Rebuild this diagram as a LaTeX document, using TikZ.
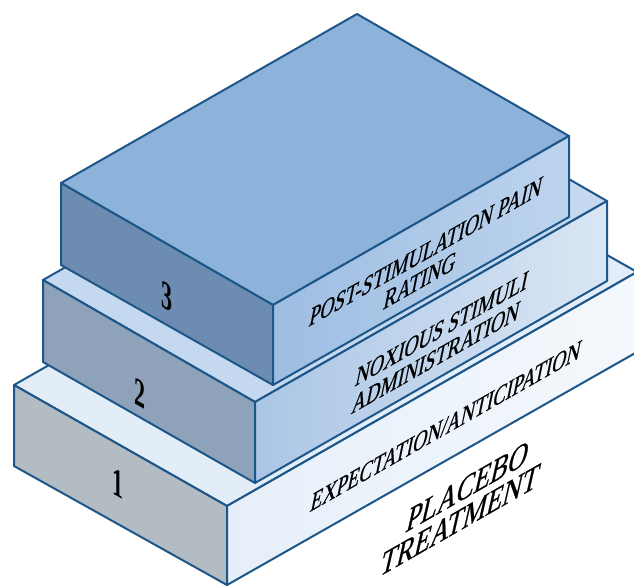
\documentclass[tikz,border=0pt]{standalone}
\usepackage{fontspec}
\setmainfont{Liberation Serif}
\newfontfamily\lblfont[FakeBold=0.8]{Liberation Serif}
\definecolor{edgeblue}{HTML}{1D5689}
\definecolor{topA}{HTML}{E2EDF8}
\definecolor{leftA}{HTML}{B3BBC3}
\definecolor{rightAl}{HTML}{E6EFF9}
\definecolor{rightAr}{HTML}{F4F8FC}
\definecolor{topB}{HTML}{C4D8EF}
\definecolor{leftB}{HTML}{8EA3BA}
\definecolor{rightBl}{HTML}{ABC6E6}
\definecolor{rightBr}{HTML}{DAE6F4}
\definecolor{topC}{HTML}{8DB3DB}
\definecolor{leftC}{HTML}{6C8DB1}
\definecolor{rightCl}{HTML}{9DBDE2}
\definecolor{rightCr}{HTML}{BDD4EE}
\begin{document}
\begin{tikzpicture}[x=1pt,y=-1pt,
  edge/.style={draw=edgeblue,line width=2pt,line join=round},
  facelbl/.style={font=\lblfont\fontsize{19.5}{20}\selectfont, align=center, inner sep=0pt, text=black,
    cm={1,0.5714,0.3,1.45,(0,0)}},
  biglbl/.style={font=\lblfont\fontsize{26.5}{24}\selectfont, align=center, inner sep=0pt, text=black,
    cm={1,0.5714,0.32,1.4,(0,0)}},
  numlbl/.style={font=\fontsize{40}{40}\selectfont\bfseries, inner sep=0pt, text=black,
    cm={0.55,-0.316,0,1,(0,0)}}]
\useasboundingbox (0,0) rectangle (634,587);
\clip (0,0) rectangle (634,587);
% box 1
\coordinate (L1) at (14,385);  \coordinate (F1) at (227,506);
\coordinate (R1) at (637,272); \coordinate (B1) at (424,151);
\coordinate (L1b) at (14,466); \coordinate (F1b) at (227,585);
\coordinate (R1b) at (637,352);
% box 2
\coordinate (L2) at (43,280);  \coordinate (F2) at (255,402);
\coordinate (R2) at (607,201); \coordinate (B2) at (395,79);
\coordinate (L2b) at (43,362); \coordinate (F2b) at (255,483);
\coordinate (R2b) at (607,281);
% box 3
\coordinate (L3) at (61,183);  \coordinate (F3) at (273,305);
\coordinate (R3) at (569,136); \coordinate (B3) at (357,14);
\coordinate (L3b) at (61,265); \coordinate (F3b) at (273,385);
\coordinate (R3b) at (569,217);

% box 1 faces
\path[edge,fill=topA] (L1) -- (B1) -- (R1) -- (F1) -- cycle;
\path[edge,fill=leftA] (L1) -- (F1) -- (F1b) -- (L1b) -- cycle;
\path[edge,left color=rightAl,right color=rightAr] (F1) -- (R1) -- (R1b) -- (F1b) -- cycle;
% box 2 faces
\path[edge,fill=topB] (L2) -- (B2) -- (R2) -- (F2) -- cycle;
\path[edge,fill=leftB] (L2) -- (F2) -- (F2b) -- (L2b) -- cycle;
\path[edge,left color=rightBl,right color=rightBr] (F2) -- (R2) -- (R2b) -- (F2b) -- cycle;
% box 3 faces
\path[edge,fill=topC] (L3) -- (B3) -- (R3) -- (F3) -- cycle;
\path[edge,fill=leftC] (L3) -- (F3) -- (F3b) -- (L3b) -- cycle;
\path[edge,left color=rightCl,right color=rightCr] (F3) -- (R3) -- (R3b) -- (F3b) -- cycle;

% labels
\node[numlbl] (n1) at (118,483) {1};
\node[numlbl] (n2) at (140,393) {2};
\node[numlbl] (n3) at (167,297) {3};
\node[facelbl] (t3) at (423,266) {POST-STIMULATION PAIN\\RATING};
\node[facelbl] (t2) at (439,343) {NOXIOUS STIMULI\\ADMINISTRATION};
\node[facelbl] (t1) at (446,426) {EXPECTATION/ANTICIPATION};
\node[biglbl] (t0) at (464,503) {PLACEBO\\TREATMENT};
\end{tikzpicture}
\end{document}
